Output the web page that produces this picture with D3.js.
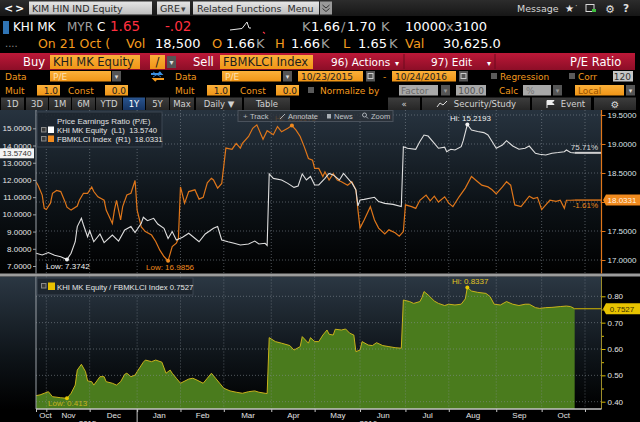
<!DOCTYPE html>
<html>
<head>
<meta charset="utf-8">
<script src="https://cdn.jsdelivr.net/npm/d3@7"></script>
<style>
  html, body { margin: 0; padding: 0; background: #000; overflow: hidden; }
  svg { display: block; font-family: "DejaVu Sans", sans-serif; }
  text { white-space: pre; }
</style>
</head>
<body>
<svg id="chart" width="640" height="422"></svg>
<script>
// ---- data (trading days, weekends skipped) ----
const startDate = "2015-10-23";
const endDate = "2016-10-24";

// KHI MK Equity P/E (left axis)
const khiSeries = [
  ["2015-10-23", 7.74], ["2015-10-28", 7.64], ["2015-11-02", 7.78], ["2015-11-05", 7.62],
  ["2015-11-10", 7.54], ["2015-11-13", 7.3742], ["2015-11-17", 7.74], ["2015-11-19", 8.41],
  ["2015-11-20", 9.29], ["2015-11-24", 9.77], ["2015-11-25", 9.38], ["2015-11-27", 8.70],
  ["2015-11-30", 9.05], ["2015-12-02", 8.41], ["2015-12-07", 8.86], ["2015-12-09", 8.36],
  ["2015-12-15", 8.80], ["2015-12-18", 8.45], ["2015-12-23", 9.09], ["2015-12-28", 9.29],
  ["2015-12-30", 8.94], ["2016-01-04", 9.48], ["2016-01-05", 9.83], ["2016-01-07", 9.63],
  ["2016-01-12", 9.77], ["2016-01-14", 9.44], ["2016-01-19", 9.19], ["2016-01-21", 8.60],
  ["2016-01-25", 9.00], ["2016-01-27", 8.51], ["2016-02-01", 8.67], ["2016-02-04", 8.90],
  ["2016-02-11", 8.41], ["2016-02-16", 8.86], ["2016-02-22", 9.19], ["2016-02-24", 9.29],
  ["2016-02-26", 8.51], ["2016-03-02", 8.41], ["2016-03-07", 8.32], ["2016-03-10", 8.22],
  ["2016-03-16", 8.28], ["2016-03-21", 8.45], ["2016-03-23", 8.28], ["2016-03-28", 8.32],
  ["2016-03-29", 8.20], ["2016-03-30", 12.35], ["2016-04-01", 12.09], ["2016-04-07", 12.00],
  ["2016-04-12", 11.80], ["2016-04-15", 11.57], ["2016-04-19", 11.65], ["2016-04-21", 12.35],
  ["2016-04-25", 12.00], ["2016-04-27", 12.20], ["2016-04-29", 11.71], ["2016-05-03", 11.71],
  ["2016-05-06", 12.09], ["2016-05-10", 12.38], ["2016-05-12", 12.29], ["2016-05-17", 12.00],
  ["2016-05-19", 12.38], ["2016-05-24", 11.96], ["2016-05-25", 11.84], ["2016-05-27", 11.42],
  ["2016-05-30", 10.49], ["2016-05-31", 10.84], ["2016-06-02", 10.87], ["2016-06-09", 10.99],
  ["2016-06-13", 10.74], ["2016-06-16", 10.64], ["2016-06-22", 10.58], ["2016-06-28", 10.45],
  ["2016-06-29", 13.93], ["2016-07-01", 13.84], ["2016-07-07", 13.78], ["2016-07-11", 14.23],
  ["2016-07-13", 14.61], ["2016-07-15", 14.55], ["2016-07-20", 14.13], ["2016-07-22", 13.84],
  ["2016-07-27", 13.90], ["2016-07-28", 13.64], ["2016-08-01", 13.78], ["2016-08-03", 13.74],
  ["2016-08-08", 13.93], ["2016-08-09", 14.28], ["2016-08-11", 15.2193], ["2016-08-15", 14.90],
  ["2016-08-18", 14.81], ["2016-08-23", 14.75], ["2016-08-25", 14.61], ["2016-08-29", 14.23],
  ["2016-08-31", 13.84], ["2016-09-05", 14.03], ["2016-09-07", 14.28], ["2016-09-12", 13.97],
  ["2016-09-15", 13.78], ["2016-09-20", 13.84], ["2016-09-22", 13.97], ["2016-09-27", 13.55],
  ["2016-09-29", 13.49], ["2016-10-04", 13.45], ["2016-10-07", 13.55], ["2016-10-12", 13.59],
  ["2016-10-17", 13.64], ["2016-10-18", 13.74], ["2016-10-20", 13.59], ["2016-10-24", 13.574]
];

// FBMKLCI Index P/E (right axis)
const fbmSeries = [
  ["2015-10-23", 18.35], ["2015-10-26", 18.29], ["2015-10-28", 18.12], ["2015-10-29", 17.89],
  ["2015-10-30", 17.87], ["2015-11-03", 17.98], ["2015-11-04", 18.15], ["2015-11-06", 18.20],
  ["2015-11-10", 18.18], ["2015-11-12", 18.01], ["2015-11-13", 17.91], ["2015-11-17", 17.86],
  ["2015-11-20", 17.93], ["2015-11-23", 18.03], ["2015-11-25", 18.15], ["2015-11-27", 18.15],
  ["2015-12-01", 18.26], ["2015-12-02", 18.18], ["2015-12-04", 18.09], ["2015-12-09", 18.03],
  ["2015-12-10", 17.86], ["2015-12-15", 17.63], ["2015-12-16", 17.86], ["2015-12-17", 18.03],
  ["2015-12-21", 17.69], ["2015-12-22", 17.92], ["2015-12-24", 18.12], ["2015-12-28", 18.15],
  ["2015-12-30", 18.37], ["2015-12-31", 17.86], ["2016-01-04", 17.57], ["2016-01-06", 17.49],
  ["2016-01-11", 17.43], ["2016-01-13", 17.32], ["2016-01-15", 17.17], ["2016-01-19", 17.06],
  ["2016-01-21", 16.9856], ["2016-01-25", 17.23], ["2016-01-27", 17.29], ["2016-01-28", 17.37],
  ["2016-01-29", 18.26], ["2016-02-02", 17.98], ["2016-02-04", 18.18], ["2016-02-09", 18.21],
  ["2016-02-11", 18.05], ["2016-02-15", 18.08], ["2016-02-17", 18.33], ["2016-02-19", 18.41],
  ["2016-02-22", 18.38], ["2016-02-24", 18.24], ["2016-02-26", 18.32], ["2016-03-01", 18.93],
  ["2016-03-04", 18.91], ["2016-03-08", 19.01], ["2016-03-10", 18.93], ["2016-03-11", 19.01],
  ["2016-03-16", 19.13], ["2016-03-18", 19.27], ["2016-03-22", 19.33], ["2016-03-25", 19.08],
  ["2016-03-29", 19.23], ["2016-04-01", 19.16], ["2016-04-05", 19.30], ["2016-04-07", 19.21],
  ["2016-04-12", 19.27], ["2016-04-14", 19.3179], ["2016-04-18", 19.24], ["2016-04-20", 19.13],
  ["2016-04-22", 18.95], ["2016-04-26", 18.75], ["2016-04-28", 18.72], ["2016-04-29", 18.58],
  ["2016-05-03", 18.58], ["2016-05-05", 18.44], ["2016-05-06", 18.52], ["2016-05-10", 18.38],
  ["2016-05-12", 18.49], ["2016-05-16", 18.38], ["2016-05-18", 18.35], ["2016-05-23", 18.29],
  ["2016-05-25", 18.35], ["2016-05-27", 18.21], ["2016-05-30", 17.86], ["2016-05-31", 17.55],
  ["2016-06-02", 17.69], ["2016-06-07", 17.92], ["2016-06-09", 17.69], ["2016-06-13", 17.55],
  ["2016-06-16", 17.45], ["2016-06-20", 17.52], ["2016-06-23", 17.47], ["2016-06-27", 17.41],
  ["2016-06-29", 17.49], ["2016-06-30", 17.95], ["2016-07-05", 17.92], ["2016-07-07", 17.89],
  ["2016-07-11", 18.03], ["2016-07-14", 18.12], ["2016-07-18", 18.02], ["2016-07-20", 18.10],
  ["2016-07-22", 18.00], ["2016-07-27", 18.09], ["2016-07-29", 17.98], ["2016-08-02", 17.92],
  ["2016-08-05", 18.09], ["2016-08-10", 18.24], ["2016-08-15", 18.44], ["2016-08-18", 18.35],
  ["2016-08-22", 18.29], ["2016-08-25", 18.26], ["2016-08-29", 18.21], ["2016-08-31", 18.14],
  ["2016-09-05", 18.26], ["2016-09-07", 18.35], ["2016-09-09", 18.29], ["2016-09-13", 17.95],
  ["2016-09-16", 17.92], ["2016-09-20", 18.01], ["2016-09-22", 18.10], ["2016-09-26", 18.06],
  ["2016-09-28", 18.08], ["2016-09-30", 17.87], ["2016-10-04", 17.95], ["2016-10-06", 18.03],
  ["2016-10-11", 18.01], ["2016-10-13", 18.03], ["2016-10-17", 17.89], ["2016-10-18", 18.03],
  ["2016-10-20", 18.03], ["2016-10-24", 18.0331]
];

// KHI MK Equity / FBMKLCI Index (lower panel)
const ratioSeries = [
  ["2015-10-23", 0.423], ["2015-10-27", 0.426], ["2015-10-29", 0.432], ["2015-11-02", 0.438],
  ["2015-11-04", 0.419], ["2015-11-10", 0.415], ["2015-11-13", 0.413], ["2015-11-17", 0.432],
  ["2015-11-19", 0.463], ["2015-11-20", 0.520], ["2015-11-24", 0.542], ["2015-11-26", 0.514],
  ["2015-11-27", 0.479], ["2015-12-01", 0.476], ["2015-12-02", 0.463], ["2015-12-07", 0.495],
  ["2015-12-09", 0.495], ["2015-12-10", 0.476], ["2015-12-15", 0.470], ["2015-12-17", 0.463],
  ["2015-12-21", 0.476], ["2015-12-23", 0.504], ["2015-12-24", 0.508], ["2015-12-28", 0.495],
  ["2015-12-30", 0.501], ["2015-12-31", 0.514], ["2016-01-05", 0.550], ["2016-01-06", 0.558],
  ["2016-01-11", 0.552], ["2016-01-13", 0.558], ["2016-01-18", 0.550], ["2016-01-20", 0.508],
  ["2016-01-22", 0.520], ["2016-01-25", 0.508], ["2016-01-27", 0.489], ["2016-01-29", 0.470],
  ["2016-02-04", 0.486], ["2016-02-08", 0.489], ["2016-02-10", 0.482], ["2016-02-15", 0.470],
  ["2016-02-17", 0.489], ["2016-02-19", 0.508], ["2016-02-23", 0.489], ["2016-02-25", 0.470],
  ["2016-02-29", 0.451], ["2016-03-03", 0.441], ["2016-03-08", 0.436], ["2016-03-11", 0.432],
  ["2016-03-16", 0.438], ["2016-03-21", 0.441], ["2016-03-23", 0.436], ["2016-03-28", 0.432],
  ["2016-03-29", 0.431], ["2016-03-30", 0.643], ["2016-04-04", 0.628], ["2016-04-07", 0.622],
  ["2016-04-13", 0.613], ["2016-04-15", 0.596], ["2016-04-20", 0.609], ["2016-04-21", 0.647],
  ["2016-04-26", 0.622], ["2016-04-27", 0.643], ["2016-04-29", 0.628], ["2016-05-03", 0.628],
  ["2016-05-05", 0.653], ["2016-05-09", 0.672], ["2016-05-10", 0.656], ["2016-05-12", 0.653],
  ["2016-05-13", 0.675], ["2016-05-18", 0.672], ["2016-05-20", 0.676], ["2016-05-24", 0.660],
  ["2016-05-26", 0.653], ["2016-05-27", 0.590], ["2016-05-31", 0.596], ["2016-06-01", 0.628],
  ["2016-06-06", 0.615], ["2016-06-08", 0.613], ["2016-06-10", 0.624], ["2016-06-15", 0.613],
  ["2016-06-20", 0.609], ["2016-06-23", 0.605], ["2016-06-28", 0.603], ["2016-06-29", 0.786],
  ["2016-07-04", 0.780], ["2016-07-06", 0.773], ["2016-07-11", 0.780], ["2016-07-12", 0.795],
  ["2016-07-13", 0.818], ["2016-07-15", 0.805], ["2016-07-20", 0.782], ["2016-07-22", 0.773],
  ["2016-07-27", 0.765], ["2016-07-29", 0.770], ["2016-08-03", 0.767], ["2016-08-08", 0.770],
  ["2016-08-10", 0.790], ["2016-08-11", 0.8337], ["2016-08-15", 0.820], ["2016-08-18", 0.815],
  ["2016-08-24", 0.811], ["2016-08-26", 0.799], ["2016-08-30", 0.770], ["2016-09-02", 0.767],
  ["2016-09-07", 0.780], ["2016-09-12", 0.770], ["2016-09-15", 0.765], ["2016-09-20", 0.770],
  ["2016-09-22", 0.770], ["2016-09-27", 0.757], ["2016-09-29", 0.754], ["2016-10-04", 0.757],
  ["2016-10-07", 0.758], ["2016-10-13", 0.761], ["2016-10-18", 0.763], ["2016-10-20", 0.761],
  ["2016-10-24", 0.7527]
];

const leftTicks = [7, 8, 9, 10, 11, 12, 13, 14, 15];
const rightTicks = [17, 17.5, 18, 18.5, 19, 19.5];
const ratioTicks = [0.4, 0.5, 0.6, 0.7, 0.8];
const ratioMinorTicks = [0.45, 0.55, 0.65, 0.75];
const monthLabels = ["Oct", "Nov", "Dec", "Jan", "Feb", "Mar", "Apr", "May", "Jun", "Jul", "Aug", "Sep", "Oct"];
const yearLabels = [["2015", "2015-10-23", "2016-01-01"], ["2016", "2016-01-01", "2016-11-08"]];

const khiLast = "13.5740", fbmLast = "18.0331", ratioLast = "0.7527";
const khiChange = "75.71%", fbmChange = "-1.61%";
const khiLow = 7.3742, khiHi = 15.2193, fbmLow = 16.9856, fbmHi = 19.3179;
const ratioLow = 0.413, ratioHi = 0.8337;

// ---- helpers ----
const parse = d3.timeParse("%Y-%m-%d");
const t0 = parse(startDate);
// position on a trading-day axis: count weekdays since the first day
const tradingIndex = d => d3.timeDay.range(t0, d).filter(x => x.getDay() !== 0 && x.getDay() !== 6).length;
const toPoints = s => s.map(([d, v]) => ({ i: tradingIndex(parse(d)), v: v }));

const khi = toPoints(khiSeries);
const fbm = toPoints(fbmSeries);
const ratio = toPoints(ratioSeries);

const svg = d3.select("#chart");
const defs = svg.append("defs");

function vGrad(id, stops) {
  const g = defs.append("linearGradient").attr("id", id)
    .attr("x1", 0).attr("y1", 0).attr("x2", 0).attr("y2", 1);
  stops.forEach(([o, c]) => g.append("stop").attr("offset", o).attr("stop-color", c));
}
vGrad("gTop", [[0, "#2c2c2c"], [1, "#161616"]]);
vGrad("gRed", [[0, "#bd1838"], [1, "#8c0e27"]]);
vGrad("gPanel", [[0, "#27333f"], [0.55, "#0d1318"], [1, "#000"]]);
vGrad("gPanel2", [[0, "#2b3743"], [0.6, "#0e1419"], [1, "#000"]]);
vGrad("gGray", [[0, "#e6e6e6"], [1, "#bdbdbd"]]);
vGrad("gOrange", [[0, "#fbb03a"], [1, "#f09516"]]);
vGrad("gBtn", [[0, "#3d3d3d"], [1, "#262626"]]);
vGrad("gBlue", [[0, "#2a5590"], [1, "#163462"]]);

function rect(x, y, w, h, fill, stroke, parent) {
  return (parent || svg).append("rect").attr("x", x).attr("y", y).attr("width", w).attr("height", h)
    .attr("fill", fill).attr("stroke", stroke || "none");
}
function txt(x, y, s, o = {}, parent) {
  return (parent || svg).append("text").attr("x", x).attr("y", y).text(s)
    .attr("fill", o.c || "#fff").attr("font-size", o.s || 10)
    .attr("text-anchor", o.a || "start")
    .attr("font-weight", o.w || null)
    .attr("font-family", o.f || null);
}
const ORANGE = "#f39a1e";

// ---- terminal header ----
rect(0, 0, 640, 16, "url(#gTop)");
txt(4, 12, "<", { s: 11, w: "bold" });
txt(15, 12, ">", { s: 11, w: "bold" });
rect(29, 1.5, 123, 13, "url(#gGray)");
txt(32, 12, "KIM HIN IND Equity", { c: "#2a2a2a", s: 9.5 });
rect(157, 1.5, 33, 13, "url(#gGray)");
txt(160, 12, "GRE", { c: "#2a2a2a", s: 9.5 });
txt(181, 12, "▾", { c: "#444", s: 9 });
rect(193, 1.5, 126, 13, "url(#gGray)");
txt(197, 12, "Related Functions  Menu", { c: "#2a2a2a", s: 9.5 });
rect(320, 1.5, 12, 13, "#9a9a9a");
svg.append("path").attr("d", "M322.5,5 l3.5,3 l3.5,-3 M322.5,8.5 l3.5,3 l3.5,-3")
  .attr("stroke", "#333").attr("fill", "none").attr("stroke-width", 1);
txt(517, 12, "Message", { c: "#d6d6d6", s: 9.5 });
txt(565, 12, "★", { c: "#e8e8e8", s: 10 });
txt(575, 9, "·", { c: "#bbb", s: 8 });
rect(586, 4.5, 8, 7, "none", "#d8d8d8");
rect(592, 9, 4, 3, "#3fbf3f");
txt(605, 12.5, "⚙", { c: "#e0e0e0", s: 11 });
txt(623, 12, "?", { c: "#e0e0e0", s: 10.5, w: "bold" });

// quote lines
rect(3, 21, 6, 13, "#2f74b5");
txt(13, 31, "KHI MK", { s: 12 });
txt(67, 31, "MYR", { c: "#a0a0a0", s: 12 });
txt(97, 31, "C", { s: 12 });
txt(110, 31, "1.65", { c: "#ff2f3f", s: 13.5 });
txt(165, 31, "-.02", { c: "#ff2f3f", s: 13.5 });
svg.append("polyline").attr("points", "230,30 242,28.5 247,22 249,28 251,28")
  .attr("fill", "none").attr("stroke", "#e8e8e8").attr("stroke-width", 1);
svg.append("path").attr("d", "M263,32 l2,1.5").attr("stroke", "#ff2f3f").attr("stroke-width", 1.2);
txt(302, 31, "K", { c: "#a0a0a0", s: 13 });
txt(311, 31, "1.66", { s: 13 });
txt(341, 31, "/", { c: "#a0a0a0", s: 13 });
txt(347, 31, "1.70", { s: 13 });
txt(381, 31, "K", { c: "#a0a0a0", s: 13 });
txt(405, 31, "10000", { s: 13 });
txt(446, 31, "x", { c: "#a0a0a0", s: 13 });
txt(454, 31, "3100", { s: 13 });

txt(5, 47, "....", { c: "#888", s: 10 });
txt(38, 48, "On 21 Oct (", { c: ORANGE, s: 12.5 });
txt(126, 48, "Vol", { c: ORANGE, s: 13 });
txt(155, 48, "18,500", { s: 13 });
txt(212, 48, "O", { c: ORANGE, s: 13 });
txt(226, 48, "1.66", { s: 13 });
txt(256, 48, "K", { c: "#a0a0a0", s: 13 });
txt(275, 48, "H", { c: ORANGE, s: 13 });
txt(291, 48, "1.66", { s: 13 });
txt(321, 48, "K", { c: "#a0a0a0", s: 13 });
txt(343, 48, "L", { c: ORANGE, s: 13 });
txt(358, 48, "1.65", { s: 13 });
txt(389, 48, "K", { c: "#a0a0a0", s: 13 });
txt(405, 48, "Val", { c: ORANGE, s: 13 });
txt(443, 48, "30,625.0", { s: 13 });

// red function bar
rect(0, 53, 635, 17, "url(#gRed)");
txt(23, 66, "Buy", { s: 11.5 });
rect(50, 55, 90, 14, "url(#gOrange)");
txt(53, 66, "KHI MK Equity", { c: "#1e1e1e", s: 11.5 });
rect(150, 55, 15, 14, "url(#gOrange)");
txt(157.5, 66, "/", { c: "#1e1e1e", s: 11.5, a: "middle" });
rect(167, 56, 9, 12, "#555");
txt(171.5, 65, "▾", { c: "#ddd", s: 8, a: "middle" });
txt(193, 66, "Sell", { s: 11.5 });
rect(220, 55, 93, 14, "url(#gOrange)");
txt(223, 66, "FBMKLCI Index", { c: "#1e1e1e", s: 11.5 });
txt(331, 66, "96) Actions", { s: 10.5 });
txt(395, 66, "▾", { s: 8 });
svg.append("line").attr("x1", 404).attr("x2", 404).attr("y1", 54).attr("y2", 69).attr("stroke", "#6c0a1e");
txt(431, 66, "97) Edit", { s: 10.5 });
txt(487, 66, "▾", { s: 8 });
svg.append("line").attr("x1", 495).attr("x2", 495).attr("y1", 54).attr("y2", 69).attr("stroke", "#6c0a1e");
txt(570, 66, "P/E Ratio", { s: 11.5 });

// data / date row
txt(5, 80, "Data", { c: ORANGE, s: 9 });
rect(50, 71, 61, 10.5, "url(#gOrange)");
txt(53, 79.5, "P/E", { c: "#fde0b4", s: 9 });
rect(112, 71, 9, 10.5, "#555");
txt(116.5, 79, "▾", { c: "#ddd", s: 7, a: "middle" });
svg.append("path").attr("d", "M151,74 h10 l-2,-2").attr("stroke", "#3b8fe0").attr("stroke-width", 2).attr("fill", "none");
svg.append("path").attr("d", "M164,79 h-10 l2,2").attr("stroke", "#f39a1e").attr("stroke-width", 2).attr("fill", "none");
svg.append("path").attr("d", "M153,77 l8,-5 M153,72 l8,5").attr("stroke", "#3b8fe0").attr("stroke-width", 1).attr("opacity", 0.8);
txt(175, 80, "Data", { c: ORANGE, s: 9 });
rect(222, 71, 59, 10.5, "url(#gOrange)");
txt(225, 79.5, "P/E", { c: "#fde0b4", s: 9 });
rect(283, 71, 9, 10.5, "#555");
txt(287.5, 79, "▾", { c: "#ddd", s: 7, a: "middle" });
rect(298, 71, 65, 10.5, "url(#gOrange)");
txt(301, 79.5, "10/23/2015", { c: "#222", s: 9 });
rect(366, 71, 9, 10.5, "#555");
rect(368, 73.5, 5, 5, "none", "#ccc");
txt(383, 79.5, "-", { c: ORANGE, s: 9 });
rect(392, 71, 64, 10.5, "url(#gOrange)");
txt(395, 79.5, "10/24/2016", { c: "#222", s: 9 });
rect(459, 71, 9, 10.5, "#555");
rect(461, 73.5, 5, 5, "none", "#ccc");
rect(491, 73, 6, 6, "#5a5a5a");
txt(500, 80, "Regression", { c: ORANGE, s: 9 });
rect(569, 73, 6, 6, "#5a5a5a");
txt(578, 80, "Corr", { c: ORANGE, s: 9 });
rect(613, 71, 20, 10.5, "#c6c6c6");
txt(631, 79.5, "120", { c: "#333", s: 9, a: "end" });

// mult / const row
txt(5, 93.5, "Mult", { c: ORANGE, s: 9 });
rect(37, 85, 23, 10.5, "url(#gOrange)");
txt(58, 93.5, "1.0", { c: "#222", s: 9, a: "end" });
txt(68, 93.5, "Const", { c: ORANGE, s: 9 });
rect(105, 85, 23, 10.5, "url(#gOrange)");
txt(126, 93.5, "0.0", { c: "#222", s: 9, a: "end" });
txt(175, 93.5, "Mult", { c: ORANGE, s: 9 });
rect(207, 85, 23, 10.5, "url(#gOrange)");
txt(228, 93.5, "1.0", { c: "#222", s: 9, a: "end" });
txt(240, 93.5, "Const", { c: ORANGE, s: 9 });
rect(276, 85, 23, 10.5, "url(#gOrange)");
txt(297, 93.5, "0.0", { c: "#222", s: 9, a: "end" });
rect(308, 87, 6, 6, "#5a5a5a");
txt(320, 93.5, "Normalize by", { c: ORANGE, s: 9 });
rect(399, 85, 39, 10.5, "#a9a9a9");
txt(401, 93.5, "Factor", { c: "#6a6a6a", s: 9 });
rect(441, 85, 9, 10.5, "#555");
txt(445.5, 93, "▾", { c: "#999", s: 7, a: "middle" });
rect(456, 85, 30, 10.5, "#a9a9a9");
txt(484, 93.5, "100.0", { c: "#555", s: 9, a: "end" });
txt(499, 93.5, "Calc", { c: ORANGE, s: 9 });
rect(523, 85, 28, 10.5, "#a9a9a9");
txt(526, 93.5, "%", { c: "#777", s: 9 });
rect(553, 85, 9, 10.5, "#555");
txt(557.5, 93, "▾", { c: "#999", s: 7, a: "middle" });
rect(575, 85, 49, 10.5, "url(#gOrange)");
txt(578, 93.5, "Local", { c: "#9a5200", s: 9 });
rect(626, 85, 9, 10.5, "#555");
txt(630.5, 93, "▾", { c: "#ddd", s: 7, a: "middle" });

// range buttons
const buttons = [[1, 23, "1D"], [26, 22, "3D"], [49, 22, "1M"], [72, 23, "6M"], [96, 26, "YTD"],
  [123, 22, "1Y"], [146, 23, "5Y"], [170, 24, "Max"], [196, 46, "Daily ▼"], [244, 46, "Table"],
  [388, 32, "«"], [422, 108, "Security/Study"], [532, 59, "Event"], [594, 42, ""]];
buttons.forEach(([x, w, s]) => {
  rect(x, 97.5, w, 12.5, s === "1Y" ? "url(#gBlue)" : "url(#gBtn)");
  const tx = s === "Security/Study" ? x + 63 : s === "Event" ? x + 41 : x + w / 2;
  if (s) txt(tx, 107, s, { c: s === "1Y" ? "#fff" : "#d2d2d2", s: 8.5, a: "middle" });
});
svg.append("polyline").attr("points", "437,107 440,103 443,105 447,101").attr("fill", "none").attr("stroke", "#ddd");
svg.append("path").attr("d", "M547,100.5 v7.5 M547,100.5 h7 l-2,2 l2,2 h-7").attr("fill", "#eee").attr("stroke", "#eee");
txt(615, 107.5, "⚙", { c: "#ddd", s: 9.5, a: "middle" });

// ---- chart panels ----
const X0 = 36, X1 = 601.5;
const x = d3.scaleLinear().domain([0, 274]).range([X0, X1]);
const yL = d3.scaleLinear().domain([7, 15]).range([266, 128.3]);
const yR = d3.scaleLinear().domain([17, 19.5]).range([260, 115]);
const yQ = d3.scaleLinear().domain([0.4, 0.8]).range([401.7, 296.3]);
const UP = [110, 273.5], LO = [276.5, 409];

rect(0, UP[0], X1, UP[1] - UP[0], "url(#gPanel)");
rect(0, LO[0], X1, LO[1] - LO[0], "url(#gPanel2)");
rect(0, 273.5, 640, 3, "#9c9c9c");

defs.append("clipPath").attr("id", "clipUp").append("rect")
  .attr("x", X0).attr("y", UP[0]).attr("width", X1 - X0).attr("height", UP[1] - UP[0]);
defs.append("clipPath").attr("id", "clipLo").append("rect")
  .attr("x", X0).attr("y", LO[0]).attr("width", X1 - X0).attr("height", LO[1] - LO[0]);

// month boundaries on the trading-day axis
const monthStarts = d3.timeMonth.range(parse("2015-11-01"), parse("2016-11-02"));
const monthTicks = monthStarts.map(d => tradingIndex(d) - 1);
const labelPos = [0].concat(monthTicks).slice(0, -1).map((a, k) => {
  const b = monthTicks[k];
  return Math.max((a + b) / 2, x.invert(X0 + 9));
});

const gridStyle = sel => sel.attr("stroke", "#8a929b").attr("stroke-dasharray", "1,2")
  .attr("stroke-width", 1).attr("opacity", 0.55);

// upper grid
const gUp = svg.append("g");
gUp.selectAll("line.h").data(rightTicks).enter().append("line")
  .attr("x1", X0).attr("x2", X1).attr("y1", d => yR(d)).attr("y2", d => yR(d)).call(gridStyle);
gUp.selectAll("line.v").data(monthTicks).enter().append("line")
  .attr("x1", d => x(d)).attr("x2", d => x(d)).attr("y1", UP[0]).attr("y2", UP[1]).call(gridStyle);

const lineL = d3.line().x(d => x(d.i)).y(d => yL(d.v));
const lineR = d3.line().x(d => x(d.i)).y(d => yR(d.v));
const plotUp = svg.append("g").attr("clip-path", "url(#clipUp)");
plotUp.append("path").datum(fbm).attr("d", lineR).attr("fill", "none")
  .attr("stroke", "#df761a").attr("stroke-width", 1.2);
plotUp.append("path").datum(khi).attr("d", lineL).attr("fill", "none")
  .attr("stroke", "#dedede").attr("stroke-width", 1.1);

const lastI = tradingIndex(parse(endDate));
svg.append("line").attr("x1", x(lastI)).attr("x2", X1).attr("y1", yL(+khiLast)).attr("y2", yL(+khiLast))
  .attr("stroke", "#cfcfcf").attr("stroke-width", 2);
svg.append("line").attr("x1", x(lastI)).attr("x2", X1).attr("y1", yR(+fbmLast)).attr("y2", yR(+fbmLast))
  .attr("stroke", "#df761a").attr("stroke-width", 1.4);
txt(598, yL(+khiLast) - 2.5, khiChange, { c: "#dcdcdc", s: 8, a: "end", f: "Liberation Sans" });
txt(598, yR(+fbmLast) + 7.5, fbmChange, { c: "#f08a1e", s: 8, a: "end", f: "Liberation Sans" });

// hi / low markers
const chartFont = { s: 8, f: "Liberation Sans" };
function marker(cx, cy, color, label, lx, ly) {
  svg.append("circle").attr("cx", cx).attr("cy", cy).attr("r", 2).attr("fill", color);
  if (label) txt(lx, ly, label, Object.assign({ c: color }, chartFont));
}
const iOf = (pts, v) => pts.find(p => p.v === v).i;
marker(x(iOf(khi, khiLow)), yL(khiLow), "#f2f2f2", "Low: " + khiLow.toFixed(4), 46, 269);
marker(x(iOf(fbm, fbmLow)), yR(fbmLow), "#f08a1e", "Low: " + fbmLow.toFixed(4), 146, 269.5);
marker(x(iOf(fbm, fbmHi)), yR(fbmHi), "#f08a1e", "Hi: " + fbmHi.toFixed(4), 275, 121);
marker(x(iOf(khi, khiHi)), yL(khiHi), "#f2f2f2", "Hi: " + khiHi.toFixed(4), 450, 121);

// upper axes
const axL = svg.append("g").attr("transform", `translate(${X0},0)`)
  .call(d3.axisLeft(yL).tickValues(leftTicks).tickFormat(d3.format(".4f")).tickSize(3).tickPadding(1.5));
const axR = svg.append("g").attr("transform", `translate(${X1},0)`)
  .call(d3.axisRight(yR).tickValues(rightTicks).tickFormat(d3.format(".4f")).tickSize(4).tickPadding(2));
[axL, axR].forEach(a => a.selectAll("text").attr("font-family", "Liberation Sans").attr("font-size", 8));
axL.select(".domain").attr("stroke", "#9aa0a6").attr("d", `M0,${UP[0]}V${UP[1]}`);
axL.selectAll(".tick line").attr("stroke", "#9aa0a6");
axL.selectAll("text").attr("fill", "#e6e6e6");
axR.select(".domain").attr("stroke", "#df761a").attr("stroke-width", 1.2).attr("d", `M0,${UP[0]}V${UP[1]}`);
axR.selectAll(".tick line").attr("stroke", "#df761a");
axR.selectAll("text").attr("fill", "#dde2e8");

// legend upper
const lg = svg.append("g");
rect(37, 112, 125, 35, "rgba(28,36,46,0.88)", "#3c4652", lg);
txt(57, 124, "Price Earnings Ratio (P/E)", { c: "#e0e0e0", s: 8, f: "Liberation Sans" }, lg);
rect(41.5, 127.5, 4.5, 4.5, "#3a3a3a", "#888", lg);
rect(48, 126.5, 6, 6.5, "#ffffff", null, lg);
txt(57, 133, "KHI MK Equity  (L1)  " + khiLast, { c: "#e6e6e6", s: 7.7, f: "Liberation Sans" }, lg);
rect(41.5, 136.5, 4.5, 4.5, "#3a3a3a", "#888", lg);
rect(48, 135.5, 6, 6.5, "#f08a1e", null, lg);
txt(57, 142, "FBMKLCI Index  (R1)  " + fbmLast, { c: "#e6e6e6", s: 7.7, f: "Liberation Sans" }, lg);

// toolbar
const tb = svg.append("g");
rect(238, 110.5, 155, 11, "rgba(44,50,58,0.8)", "#4a525c", tb);
txt(243, 119, "+", { c: "#aab0b6", s: 8, f: "Liberation Sans" }, tb);
txt(250, 119, "Track", { c: "#c0c4c8", s: 7.5, f: "Liberation Sans" }, tb);
tb.append("path").attr("d", "M280,119 l5,-5").attr("stroke", "#aab0b6");
txt(288, 119, "Annotate", { c: "#c0c4c8", s: 7.5, f: "Liberation Sans" }, tb);
rect(327, 114, 4, 4.5, "#aab0b6", null, tb);
txt(334, 119, "News", { c: "#c0c4c8", s: 7.5, f: "Liberation Sans" }, tb);
tb.append("circle").attr("cx", 364.5).attr("cy", 115).attr("r", 2).attr("fill", "none").attr("stroke", "#aab0b6");
tb.append("path").attr("d", "M366,116.5 l2,2").attr("stroke", "#aab0b6");
txt(371, 119, "Zoom", { c: "#c0c4c8", s: 7.5, f: "Liberation Sans" }, tb);

// value boxes upper
rect(0, yL(+khiLast) - 4.5, 34, 10, "#f4f4f4");
txt(17, yL(+khiLast) + 3, khiLast, { c: "#333", s: 8, a: "middle", f: "Liberation Sans" });
svg.append("path").attr("d", `M603,${yR(+fbmLast)} l3,-5.5 h34 v11 h-34 z`).attr("fill", "#f08a1e");
txt(622, yR(+fbmLast) + 3, fbmLast, { c: "#fff3e2", s: 8, a: "middle", f: "Liberation Sans" });

// ---- lower panel ----
const area = d3.area().x(d => x(d.i)).y0(LO[1]).y1(d => yQ(d.v));
const lineQ = d3.line().x(d => x(d.i)).y(d => yQ(d.v));
const plotLo = svg.append("g").attr("clip-path", "url(#clipLo)");
plotLo.append("path").datum(ratio).attr("d", area).attr("fill", "#4a7b1d");
const gLo = svg.append("g");
gLo.selectAll("line.h").data(ratioTicks).enter().append("line")
  .attr("x1", X0).attr("x2", X1).attr("y1", d => yQ(d)).attr("y2", d => yQ(d)).call(gridStyle);
gLo.selectAll("line.v").data(monthTicks).enter().append("line")
  .attr("x1", d => x(d)).attr("x2", d => x(d)).attr("y1", LO[0]).attr("y2", LO[1]).call(gridStyle);
plotLo.append("path").datum(ratio).attr("d", lineQ).attr("fill", "none")
  .attr("stroke", "#c9b31c").attr("stroke-width", 1);
svg.append("line").attr("x1", x(lastI)).attr("x2", X1).attr("y1", yQ(+ratioLast)).attr("y2", yQ(+ratioLast))
  .attr("stroke", "#d4b800").attr("stroke-width", 1);

marker(x(iOf(ratio, ratioLow)), yQ(ratioLow), "#e6c800");
txt(48, 406, "Low: " + ratioLow.toFixed(3), { c: "#c7b220", s: 8, f: "Liberation Sans" });
marker(x(iOf(ratio, ratioHi)), yQ(ratioHi), "#e6c800");
txt(452, 284, "Hi: " + ratioHi.toFixed(4), { c: "#e0c424", s: 8, f: "Liberation Sans" });

// lower right axis
const axQm = svg.append("g").attr("transform", `translate(${X1},0)`)
  .call(d3.axisRight(yQ).tickValues(ratioMinorTicks).tickFormat("").tickSize(2.5));
const axQ = svg.append("g").attr("transform", `translate(${X1},0)`)
  .call(d3.axisRight(yQ).tickValues(ratioTicks).tickFormat(d3.format(".2f")).tickSize(4).tickPadding(2));
axQ.select(".domain").attr("stroke", "#9c8c2a").attr("d", `M0,${LO[0]}V${LO[1]}`);
axQm.select(".domain").remove();
axQ.selectAll(".tick line").attr("stroke", "#d4b800");
axQm.selectAll(".tick line").attr("stroke", "#d4b800");
axQ.selectAll("text").attr("fill", "#e6e6e6").attr("font-family", "Liberation Sans").attr("font-size", 8);
svg.append("line").attr("x1", X0).attr("x2", X0).attr("y1", LO[0]).attr("y2", LO[1])
  .attr("stroke", "#9aa0a6");

// lower legend
const lg2 = svg.append("g");
rect(37, 278, 156, 17, "rgba(28,36,46,0.88)", "#3c4652", lg2);
rect(41.5, 283.5, 4.5, 4.5, "#3a3a3a", "#888", lg2);
rect(48, 282.5, 7, 7.5, "#e8c000", null, lg2);
txt(57, 289.5, "KHI MK Equity / FBMKLCI Index " + ratioLast, { c: "#e6e6e6", s: 7.7, f: "Liberation Sans" }, lg2);

svg.append("path").attr("d", `M603,${yQ(+ratioLast)} l3,-5.5 h34 v11 h-34 z`).attr("fill", "#e8c300");
txt(622, yQ(+ratioLast) + 3, ratioLast, { c: "#3a3000", s: 8, a: "middle", f: "Liberation Sans" });

// bottom time axis
const axB = svg.append("g").attr("transform", `translate(0,${LO[1]})`)
  .call(d3.axisBottom(x).tickValues([0].concat(monthTicks)).tickFormat("").tickSize(3));
axB.select(".domain").attr("stroke", "#c4c4c4").attr("stroke-width", 1.6).attr("d", `M${X0},0H${X1}`);
axB.selectAll(".tick line").attr("stroke", "#c4c4c4");
const axM = svg.append("g").attr("transform", `translate(0,${LO[1]})`)
  .call(d3.axisBottom(x).tickValues(labelPos).tickSize(0).tickPadding(3)
    .tickFormat((d, k) => monthLabels[k]));
axM.select(".domain").remove();
axM.selectAll("text").attr("fill", "#e2e2e2").attr("font-family", "Liberation Sans").attr("font-size", 8);

const yearBreak = tradingIndex(parse("2016-01-01")) - 1;
svg.append("line").attr("x1", x(yearBreak)).attr("x2", x(yearBreak)).attr("y1", LO[1]).attr("y2", 422)
  .attr("stroke", "#c4c4c4");
yearLabels.forEach(([s, a, b]) => {
  const mid = (x(tradingIndex(parse(a))) + x(tradingIndex(parse(b)))) / 2;
  txt(mid, 426, s, { c: "#e2e2e2", s: 8, a: "middle", f: "Liberation Sans" });
});
</script>
</body>
</html>
